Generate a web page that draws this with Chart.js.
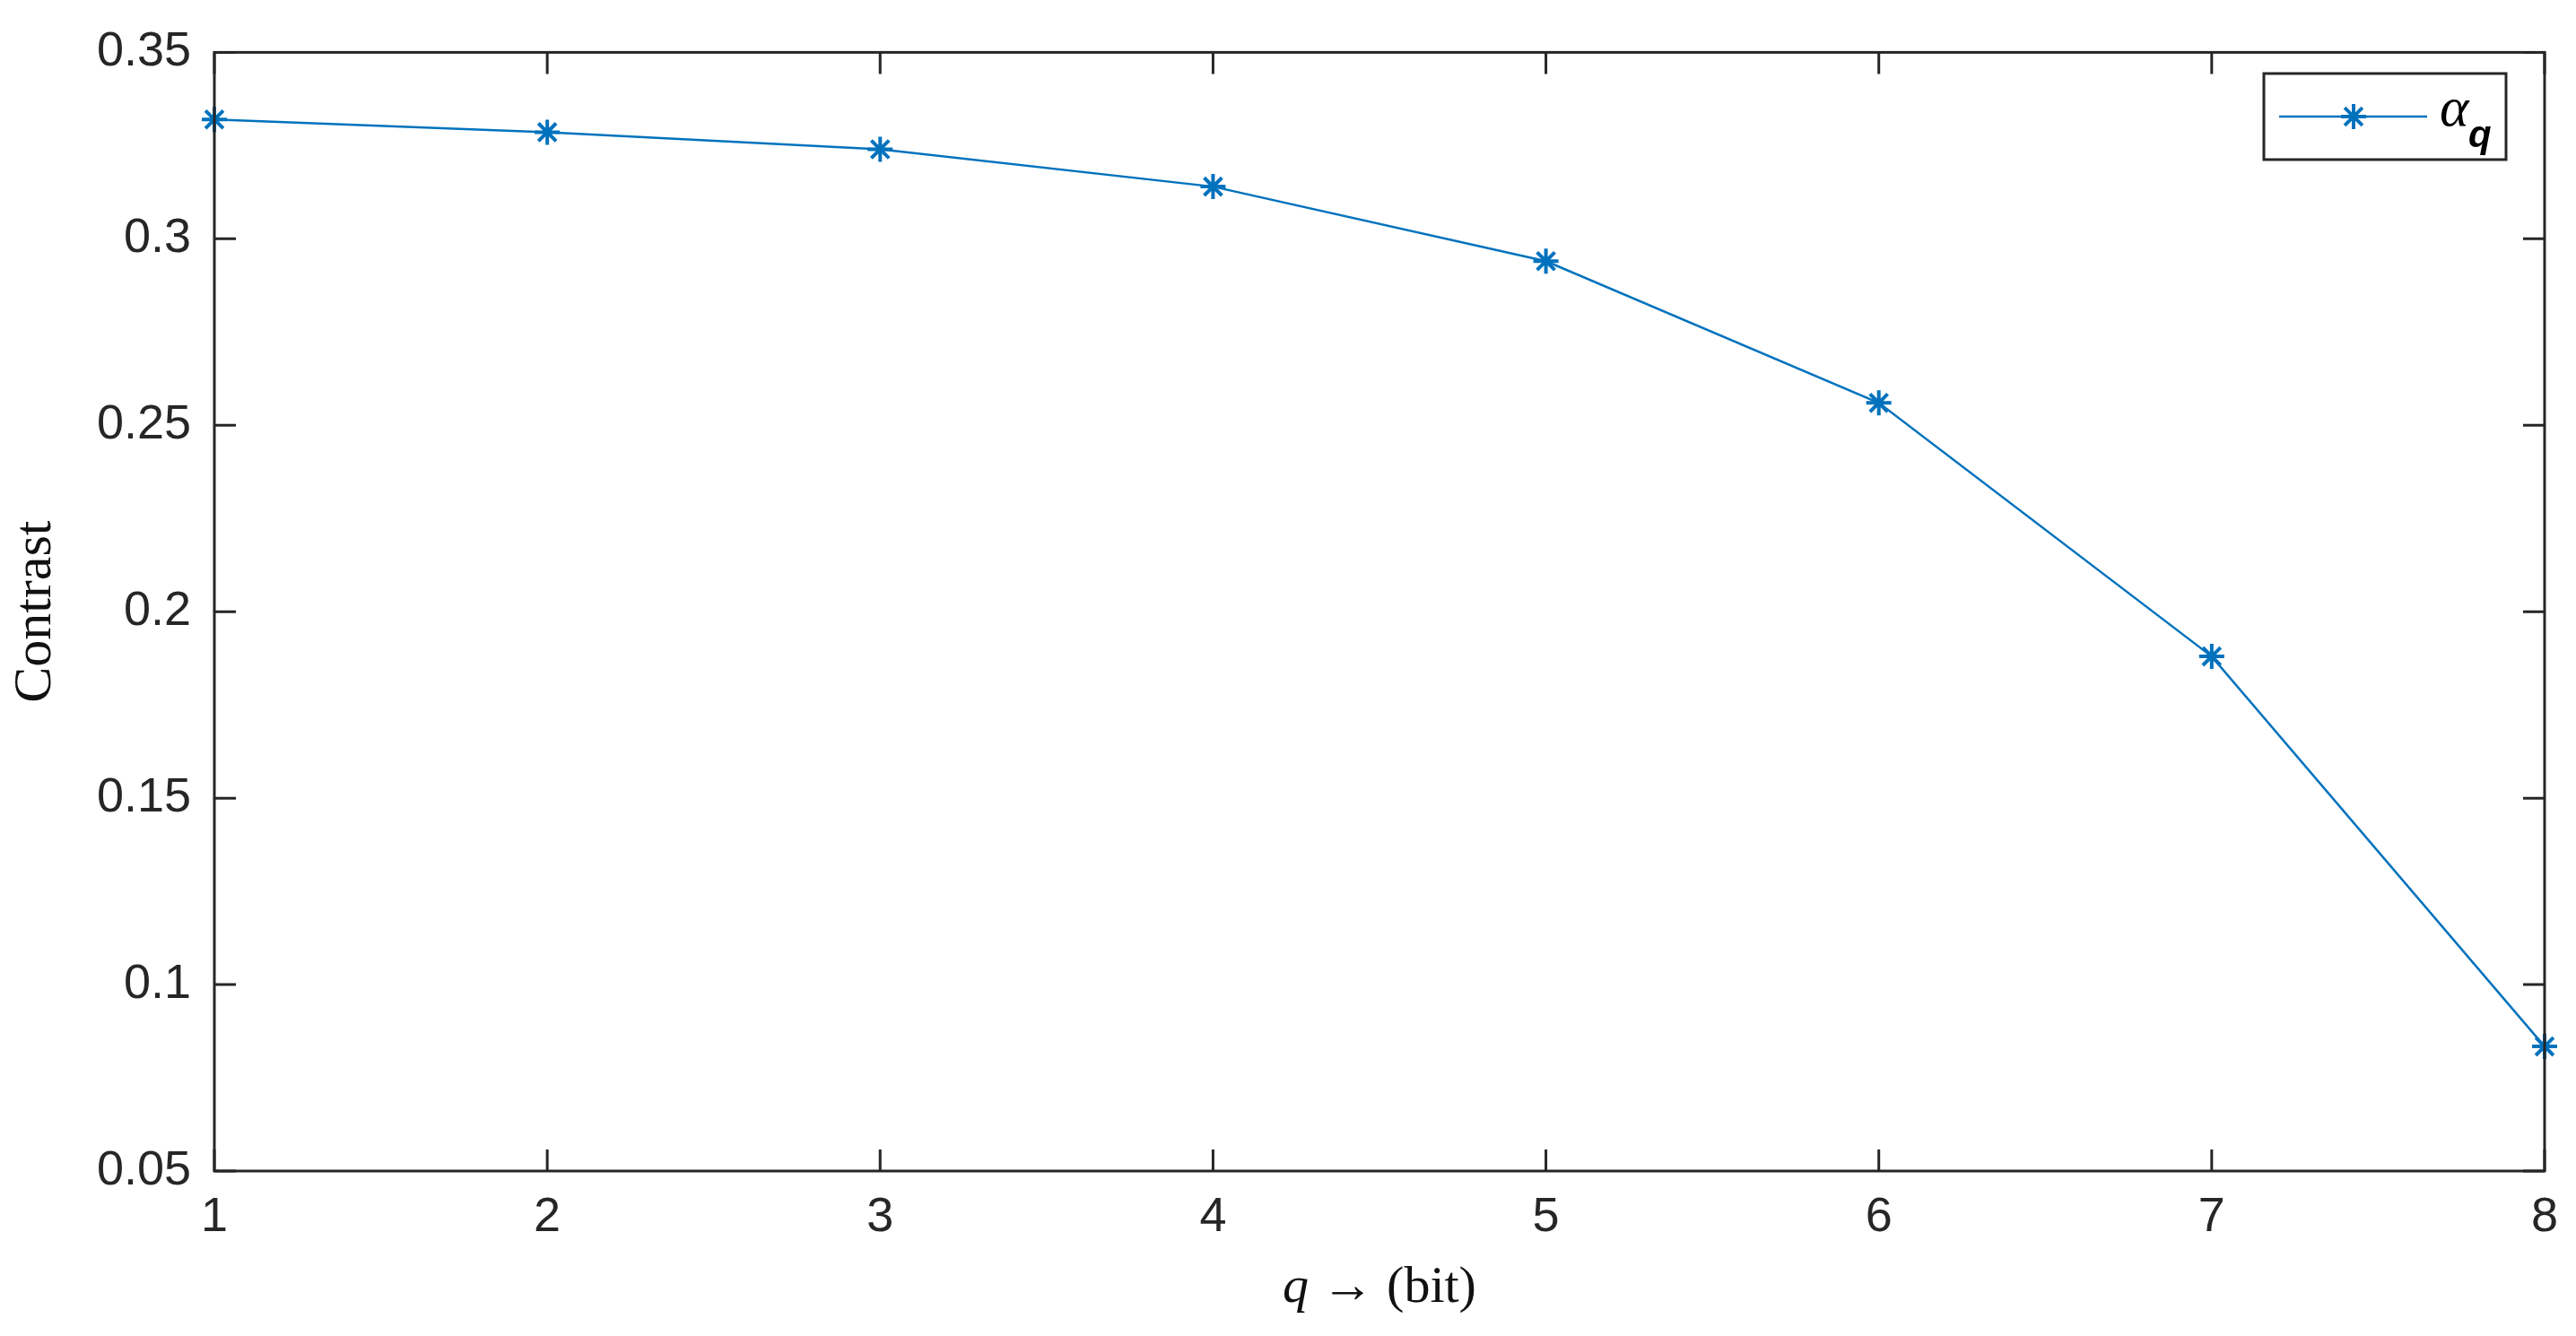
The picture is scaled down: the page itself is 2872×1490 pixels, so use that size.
<!DOCTYPE html>
<html><head><meta charset="utf-8">
<script src="https://cdn.jsdelivr.net/npm/chart.js@4/dist/chart.umd.min.js"></script>
<style>html,body{margin:0;padding:0;background:#fff}#w{width:2872px;height:1490px}</style>
</head><body><div id="w"><canvas id="c"></canvas></div>
<script>
const categories = [1, 2, 3, 4, 5, 6, 7, 8];
const contrastValues = [0.332, 0.3286, 0.324, 0.314, 0.294, 0.256, 0.188, 0.0834];
const yTicks = [0.05, 0.1, 0.15, 0.2, 0.25, 0.3, 0.35];
const seriesLabel = "α";
const seriesSub = "q";
const xTitleVar = "q";
const xTitleRest = " → (bit)";
const BLUE = '#0072BD', AX = '#262626';

const framePlugin = {
  id: 'frame',
  afterDraw(chart) {
    const {ctx, chartArea: a, scales: {x, y}} = chart;
    ctx.save();
    ctx.strokeStyle = AX; ctx.lineWidth = 3;
    ctx.strokeRect(a.left, a.top, a.right - a.left, a.bottom - a.top);
    const L = 24;
    ctx.beginPath();
    categories.forEach(v => { const px = x.getPixelForValue(v);
      ctx.moveTo(px, a.bottom); ctx.lineTo(px, a.bottom - L);
      ctx.moveTo(px, a.top); ctx.lineTo(px, a.top + L); });
    yTicks.forEach(v => { const py = y.getPixelForValue(v);
      ctx.moveTo(a.left, py); ctx.lineTo(a.left + L, py);
      ctx.moveTo(a.right, py); ctx.lineTo(a.right - L, py); });
    ctx.stroke();
    // x title
    ctx.fillStyle = '#111'; ctx.textBaseline = 'alphabetic';
    ctx.font = 'italic 58px "Liberation Serif"';
    const w1 = ctx.measureText(xTitleVar).width;
    ctx.font = '58px "Liberation Serif"';
    const w2 = ctx.measureText(xTitleRest).width;
    const sx = (a.left + a.right) / 2 - (w1 + w2) / 2;
    ctx.textAlign = 'left';
    ctx.font = 'italic 58px "Liberation Serif"'; ctx.fillText(xTitleVar, sx, 1452);
    ctx.font = '58px "Liberation Serif"'; ctx.fillText(xTitleRest, sx + w1, 1452);
    // legend
    const bx = 2524, by = 82, bw = 270, bh = 96;
    ctx.fillStyle = '#fff'; ctx.fillRect(bx, by, bw, bh);
    ctx.strokeStyle = AX; ctx.lineWidth = 3; ctx.strokeRect(bx, by, bw, bh);
    const ly = by + 48;
    ctx.strokeStyle = BLUE; ctx.lineWidth = 2.5;
    ctx.beginPath(); ctx.moveTo(bx + 17, ly); ctx.lineTo(bx + 182, ly); ctx.stroke();
    ctx.lineWidth = 4; ctx.beginPath();
    const cx = bx + 100, r = 14;
    for (let k = 0; k < 4; k++) { const t = k * Math.PI / 4;
      ctx.moveTo(cx - r * Math.cos(t), ly - r * Math.sin(t));
      ctx.lineTo(cx + r * Math.cos(t), ly + r * Math.sin(t)); }
    ctx.stroke();
    ctx.fillStyle = '#000';
    ctx.font = 'italic 62px "Liberation Serif"';
    ctx.fillText(seriesLabel, bx + 196, ly + 10);
    ctx.font = 'italic bold 42px "Liberation Sans"';
    ctx.fillText(seriesSub, bx + 228, ly + 34);
    ctx.restore();
  }
};

new Chart(document.getElementById('c'), {
  type: 'line',
  data: { datasets: [{
    data: categories.map((c, i) => ({x: c, y: contrastValues[i]})),
    borderColor: BLUE, borderWidth: 2.5, pointStyle: 'star', pointRadius: 14,
    pointBorderWidth: 4, pointBorderColor: BLUE, pointBackgroundColor: BLUE,
    tension: 0, clip: false
  }]},
  options: {
    responsive: true, maintainAspectRatio: false, animation: false,
    layout: { padding: { top: 41, right: 33, left: 0, bottom: 0 } },
    plugins: { legend: { display: false }, tooltip: { enabled: false } },
    scales: {
      x: { type: 'linear', min: 1, max: 8,
        afterBuildTicks: s => { s.ticks = categories.map(v => ({value: v})); },
        afterFit: s => { s.height = 184; },
        grid: { display: false, drawTicks: false }, border: { display: false },
        ticks: { color: AX, font: { family: 'Liberation Sans', size: 54 }, padding: 20, maxRotation: 0 } },
      y: { min: 0.05, max: 0.35,
        afterBuildTicks: s => { s.ticks = yTicks.map(v => ({value: v})); },
        afterFit: s => { s.width = 239; },
        grid: { display: false, drawTicks: false }, border: { display: false },
        ticks: { color: AX, font: { family: 'Liberation Sans', size: 54 }, padding: 26, callback: v => String(+v.toFixed(2)) },
        title: { display: true, text: 'Contrast', color: '#111', font: { family: 'Liberation Serif', size: 60 }, padding: { bottom: 4 } } }
    }
  },
  plugins: [framePlugin]
});
</script></body></html>
